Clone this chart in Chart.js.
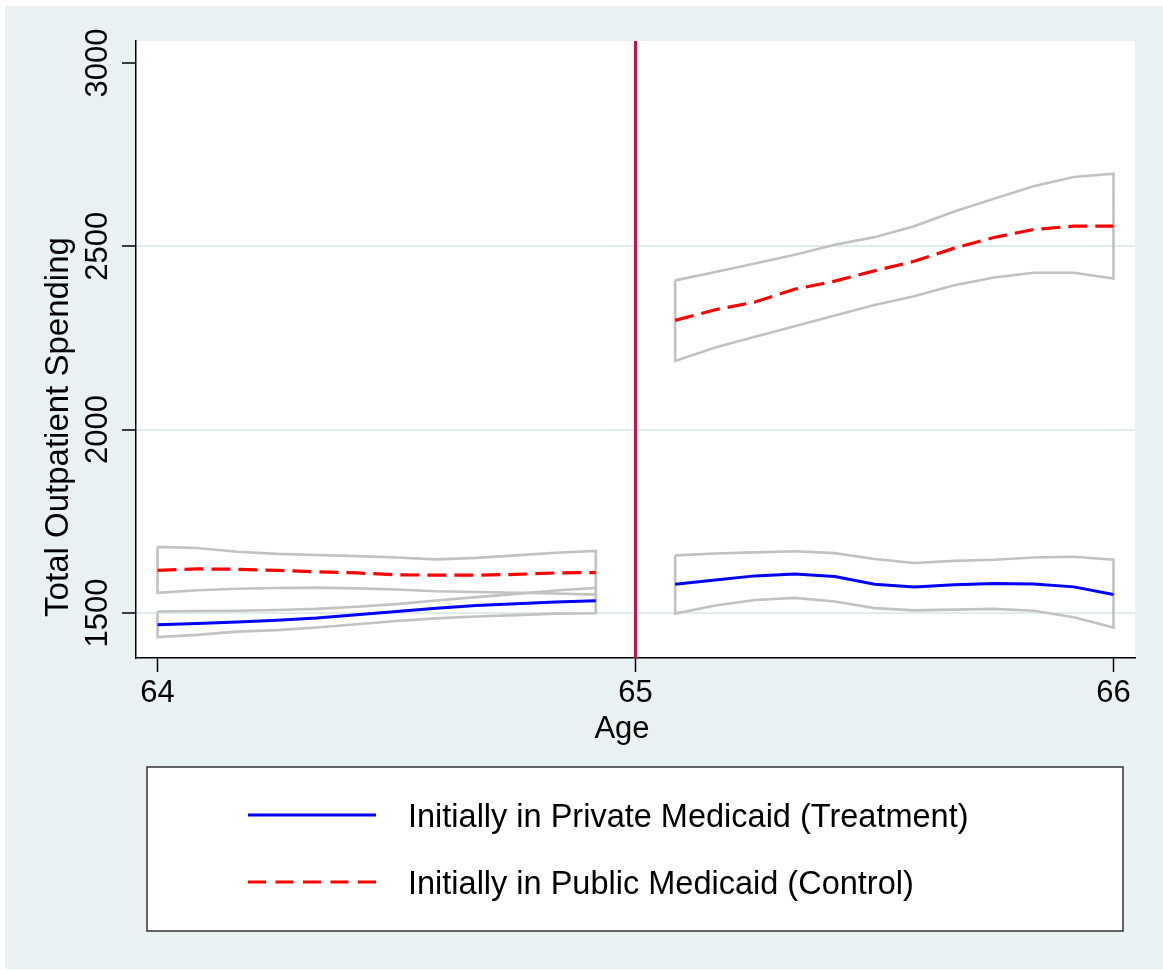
<!DOCTYPE html>
<html>
<head>
<meta charset="utf-8">
<script src="https://cdn.jsdelivr.net/npm/chart.js@4.4.1/dist/chart.umd.min.js"></script>
<style>
  html, body { margin: 0; padding: 0; background: #fff; }
  #wrap { position: relative; width: 1163px; height: 970px; }
</style>
</head>
<body>
<div id="wrap"><canvas id="chartSpending"></canvas></div>
<script>
// ages (monthly) on each side of the 65 cutoff
const ageLeft = [64.000, 64.083, 64.167, 64.250, 64.333, 64.417, 64.500, 64.583, 64.667, 64.750, 64.833, 64.917];
const ageRight = [65.083, 65.167, 65.250, 65.333, 65.417, 65.500, 65.583, 65.667, 65.750, 65.833, 65.917, 66.000];

// treatment: private medicaid
const treatLeft   = [1468, 1471, 1475, 1480, 1486, 1495, 1504, 1513, 1520, 1525, 1530, 1533];
const treatLeftHi = [1504, 1505, 1506, 1508, 1511, 1517, 1524, 1534, 1543, 1552, 1561, 1568];
const treatLeftLo = [1434, 1440, 1449, 1453, 1460, 1469, 1478, 1485, 1490, 1494, 1498, 1499];
const treatRight   = [1578, 1590, 1601, 1606, 1599, 1578, 1571, 1577, 1580, 1579, 1571, 1550];
const treatRightHi = [1657, 1662, 1665, 1668, 1663, 1647, 1636, 1642, 1645, 1651, 1653, 1645];
const treatRightLo = [1498, 1520, 1535, 1541, 1531, 1513, 1507, 1509, 1511, 1506, 1488, 1460];

// control: public medicaid
const ctrlLeft   = [1616, 1620, 1619, 1616, 1612, 1609, 1604, 1603, 1603, 1605, 1609, 1610];
const ctrlLeftHi = [1680, 1677, 1667, 1661, 1658, 1655, 1651, 1646, 1650, 1657, 1664, 1669];
const ctrlLeftLo = [1555, 1562, 1566, 1568, 1569, 1567, 1564, 1559, 1557, 1555, 1553, 1550];
const ctrlRight   = [2298, 2327, 2348, 2383, 2405, 2433, 2459, 2495, 2524, 2546, 2555, 2555];
const ctrlRightHi = [2407, 2430, 2453, 2477, 2504, 2525, 2555, 2595, 2630, 2664, 2689, 2698];
const ctrlRightLo = [2187, 2224, 2253, 2282, 2311, 2340, 2364, 2394, 2415, 2428, 2428, 2412];

const xTicks = [64, 65, 66];
const yTicks = [1500, 2000, 2500, 3000];
const cutoffAge = 65;
const seriesLabels = ['Initially in Private Medicaid (Treatment)', 'Initially in Public Medicaid (Control)'];
const xTitle = 'Age';
const yTitle = 'Total Outpatient Spending';

const colors = {
  bg: '#e9f1f3',
  grid: '#e2ecef',
  ci: '#c2c2c2',
  treat: '#0000ff',
  ctrl: '#ff0000',
  cutoff: '#c91443',
  axis: '#000'
};
const FONT = '"Liberation Sans", Arial, sans-serif';
const ctrlDash = [19, 8];

function pts(xs, ys) {
  return xs.map((x, i) => ({ x: x, y: ys[i] }));
}
// closed outline: upper bound forward, lower bound back, then close
function band(xs, hi, lo) {
  const up = pts(xs, hi);
  const down = pts(xs, lo).reverse();
  return up.concat(down, [up[0]]);
}

const ciStyle = { borderColor: colors.ci, borderWidth: 2.6, pointRadius: 0, showLine: true, fill: false, tension: 0, borderJoinStyle: 'miter', order: 2 };
const treatStyle = { borderColor: colors.treat, borderWidth: 3, pointRadius: 0, showLine: true, fill: false, tension: 0, order: 1 };
const ctrlStyle = { borderColor: colors.ctrl, borderWidth: 3.2, borderDash: ctrlDash, pointRadius: 0, showLine: true, fill: false, tension: 0, order: 1 };

// background, cutoff line, texts and legend box (Stata look)
const stataDecor = {
  id: 'stataDecor',
  beforeDraw(chart) {
    const ctx = chart.ctx, a = chart.chartArea;
    ctx.save();
    ctx.fillStyle = '#fff';
    ctx.fillRect(0, 0, chart.width, chart.height);
    ctx.fillStyle = colors.bg;
    ctx.fillRect(5, 6, chart.width - 5, chart.height - 7);
    ctx.fillStyle = '#fff';
    ctx.fillRect(a.left, a.top, a.right - a.left, a.bottom - a.top);
    ctx.restore();
  },
  beforeDatasetsDraw(chart) {
    const ctx = chart.ctx, a = chart.chartArea;
    const x = chart.scales.x.getPixelForValue(cutoffAge);
    ctx.save();
    ctx.strokeStyle = colors.cutoff;
    ctx.lineWidth = 3;
    ctx.beginPath();
    ctx.moveTo(x, a.top);
    ctx.lineTo(x, a.bottom);
    ctx.stroke();
    ctx.restore();
  },
  afterDraw(chart) {
    const ctx = chart.ctx;
    const xs = chart.scales.x, ys = chart.scales.y;
    ctx.save();
    ctx.fillStyle = '#000';
    ctx.textBaseline = 'alphabetic';
    ctx.textAlign = 'center';

    // x tick labels + title
    ctx.font = '31px ' + FONT;
    xTicks.forEach(v => ctx.fillText(String(v), xs.getPixelForValue(v), 702));
    ctx.fillText(xTitle, 622, 738);

    // y tick labels, rotated
    yTicks.forEach(v => {
      ctx.save();
      ctx.translate(106.5, ys.getPixelForValue(v));
      ctx.rotate(-Math.PI / 2);
      ctx.fillText(String(v), 0, 0);
      ctx.restore();
    });
    ctx.save();
    ctx.translate(68, 427);
    ctx.rotate(-Math.PI / 2);
    ctx.font = '33px ' + FONT;
    ctx.fillText(yTitle, 0, 0);
    ctx.restore();

    // legend
    const lx = 147, ly = 767, lw = 976, lh = 164;
    ctx.fillStyle = '#fff';
    ctx.fillRect(lx, ly, lw, lh);
    ctx.strokeStyle = '#333';
    ctx.lineWidth = 1.5;
    ctx.strokeRect(lx, ly, lw, lh);

    const rows = [
      { y: 815, color: colors.treat, dash: [] },
      { y: 882, color: colors.ctrl, dash: [18, 9.5] }
    ];
    rows.forEach((r, i) => {
      ctx.strokeStyle = r.color;
      ctx.lineWidth = 3;
      ctx.setLineDash(r.dash);
      ctx.beginPath();
      ctx.moveTo(248, r.y);
      ctx.lineTo(376, r.y);
      ctx.stroke();
      ctx.setLineDash([]);
      ctx.fillStyle = '#000';
      ctx.textAlign = 'left';
      ctx.font = '32.5px ' + FONT;
      ctx.fillText(seriesLabels[i], 408, r.y + 12);
    });
    ctx.restore();
  }
};

const ctxSpend = document.getElementById('chartSpending');
new Chart(ctxSpend, {
  type: 'scatter',
  data: {
    datasets: [
      { ...ciStyle, data: band(ageLeft, treatLeftHi, treatLeftLo) },
      { ...ciStyle, data: band(ageLeft, ctrlLeftHi, ctrlLeftLo) },
      { ...ciStyle, data: band(ageRight, treatRightHi, treatRightLo) },
      { ...ciStyle, data: band(ageRight, ctrlRightHi, ctrlRightLo) },
      { ...treatStyle, label: seriesLabels[0], data: pts(ageLeft, treatLeft) },
      { ...treatStyle, data: pts(ageRight, treatRight) },
      { ...ctrlStyle, label: seriesLabels[1], data: pts(ageLeft, ctrlLeft) },
      { ...ctrlStyle, data: pts(ageRight, ctrlRight) }
    ]
  },
  options: {
    responsive: true,
    maintainAspectRatio: false,
    animation: false,
    layout: { padding: { top: 41, right: 28, left: 0, bottom: 0 } },
    plugins: { legend: { display: false }, tooltip: { enabled: false } },
    scales: {
      x: {
        type: 'linear',
        min: 63.955,
        max: 66.045,
        afterBuildTicks: s => { s.ticks = xTicks.map(v => ({ value: v })); },
        afterFit: s => { s.height = 312; },
        ticks: { display: false },
        grid: { drawOnChartArea: false, drawTicks: true, tickLength: 14, tickColor: colors.axis, tickWidth: 1.5 },
        border: { color: colors.axis, width: 1.5 }
      },
      y: {
        type: 'linear',
        min: 1377,
        max: 3060,
        afterBuildTicks: s => { s.ticks = yTicks.map(v => ({ value: v })); },
        afterFit: s => { s.width = 136; },
        ticks: { display: false },
        grid: {
          color: c => (c.tick && c.tick.value === 3000 ? 'rgba(0,0,0,0)' : colors.grid),
          lineWidth: 2,
          drawTicks: true,
          tickLength: 14,
          tickColor: colors.axis,
          tickWidth: 1.5
        },
        border: { color: colors.axis, width: 1.5 }
      }
    }
  },
  plugins: [stataDecor]
});
</script>
</body>
</html>
